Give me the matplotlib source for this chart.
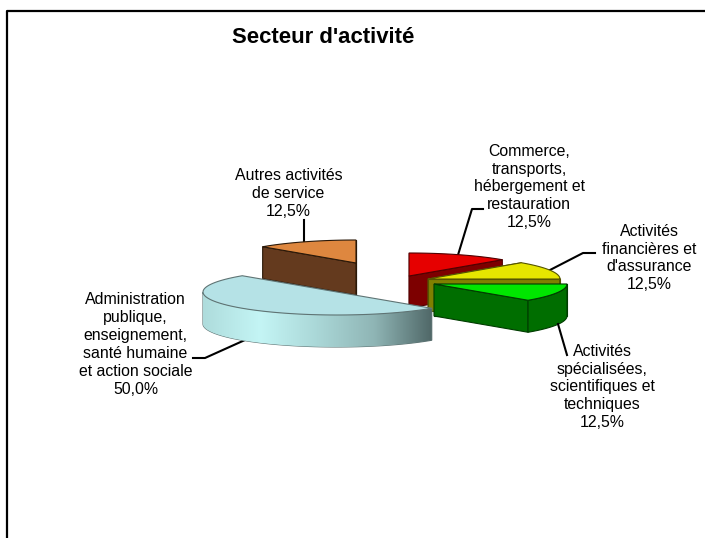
import numpy as np
import matplotlib
matplotlib.use("Agg")
import matplotlib.pyplot as plt
from matplotlib.colors import LinearSegmentedColormap
from matplotlib.patches import Polygon

plt.rcParams["font.family"] = ["Liberation Sans", "DejaVu Sans"]

# data, clockwise from the upper left
secteurs = ["Autres activités\nde service",
            "Commerce,\ntransports,\nhébergement et\nrestauration",
            "Activités\nfinancières et\nd'assurance",
            "Activités\nspécialisées,\nscientifiques et\ntechniques",
            "Administration\npublique,\nenseignement,\nsanté humaine\net action sociale"]
valeurs = [12.5, 12.5, 12.5, 12.5, 50.0]

# style and layout (pixels of the 705x538 figure)
couleurs_dessus = ["#de873f", "#e60000", "#e6e600", "#00e600", "#b5e2e6"]
couleurs_cote = ["#643a1e", "#7d0000", "#808000", "#006e00", None]
couleurs_bord = ["#2a1808", "#500000", "#555500", "#003c00", "#5f7474"]
centres = [(356, 263), (409, 276), (428, 279), (434, 284), (337, 292)]
demi_axes = [132, 132, 132, 133, 134]
pos_textes = [(288.5, 193.5), (529, 187), (649, 258), (602, 387), (135.5, 344.5)]
guides = [[(304, 243), (304, 220)],
          [(458, 255), (472, 209), (483, 209)],
          [(550, 270), (583, 253), (595, 253)],
          [(558, 324), (567, 355)],
          [(245, 340), (205, 358), (193, 358)]]
ordre = [0, 1, 2, 4, 3]  # back to front
B, EP = 23, 32
DEBUT = 135


def point(c, a, t):
    return c[0] + a * np.cos(t), c[1] - B * np.sin(t)


fig = plt.figure(figsize=(7.05, 5.38), dpi=100)
ax = fig.add_axes([0, 0, 1, 1])
ax.set_xlim(0, 705)
ax.set_ylim(538, 0)
ax.axis("off")

# chart frame, cut by the right and bottom edges of the image
ax.plot([7, 7, 705], [538, 10.5, 10.5], color="black", lw=1.6, solid_capstyle="butt")

ax.text(323, 37.5, "Secteur d'activité", fontsize=15.9, fontweight="bold",
        ha="center", va="center")

# angles come from the values
angles = np.radians(DEBUT - np.cumsum([0] + valeurs) / sum(valeurs) * 360)
degrade = LinearSegmentedColormap.from_list(
    "bleu", ["#aedcdc", "#c4f5f5", "#aad7d7", "#8fb5b5", "#506868"])

for i in ordre:
    c = centres[i]
    t = np.linspace(angles[i], angles[i + 1], 80)
    x, y = point(c, demi_axes[i], t)
    bord = couleurs_bord[i]

    # side of the slice
    if couleurs_cote[i] is not None:
        radiaux = sorted([0, -1], key=lambda k: y[k])
        for k in radiaux:
            pts = [c, (x[k], y[k]), (x[k], y[k] + EP), (c[0], c[1] + EP)]
            ax.add_patch(Polygon(pts, closed=True, fc=couleurs_cote[i], ec=bord, lw=0.8))
    devant = np.sin(t) <= 0.02
    if devant.any():
        xd, yd = x[devant], y[devant]
        pts = np.vstack([np.column_stack([xd, yd]),
                         np.column_stack([xd[::-1], yd[::-1] + EP])])
        if couleurs_cote[i] is None:
            poly = Polygon(pts, closed=True, fc="none", ec=bord, lw=0.8, zorder=2)
            ax.add_patch(poly)
            im = ax.imshow(np.linspace(0, 1, 256).reshape(1, -1), cmap=degrade,
                           extent=[xd.min(), xd.max(), yd.max() + EP, yd.min()],
                           aspect="auto", zorder=2)
            im.set_clip_path(poly)
        else:
            ax.add_patch(Polygon(pts, closed=True, fc=couleurs_cote[i], ec=bord, lw=0.8))

    # top of the slice
    dessus = np.vstack([[c], np.column_stack([x, y])])
    ax.add_patch(Polygon(dessus, closed=True, fc=couleurs_dessus[i], ec=bord, lw=0.8, zorder=3))

ax.set_xlim(0, 705)
ax.set_ylim(538, 0)

# labels and leader lines
for nom, val, pos, g in zip(secteurs, valeurs, pos_textes, guides):
    txt = nom + "\n" + f"{val:.1f}".replace(".", ",") + "%"
    ax.text(pos[0], pos[1], txt, fontsize=11.45, ha="center", va="center",
            linespacing=1.24, zorder=5)
    ax.plot([p[0] for p in g], [p[1] for p in g], color="black", lw=1.5, zorder=1)

fig.savefig("out.png", dpi=100)
